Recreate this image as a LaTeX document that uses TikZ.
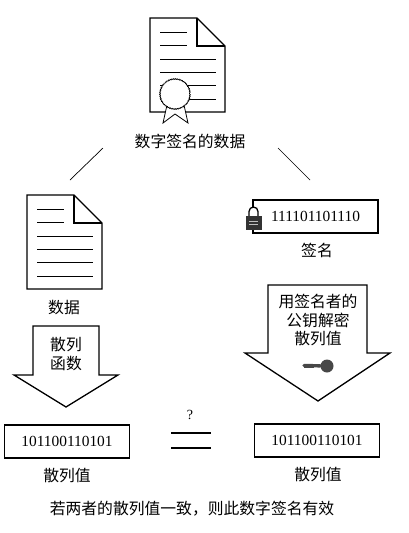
\documentclass[tikz,border=0pt]{standalone}
\usepackage{fontspec}
\setmainfont{Liberation Serif}
\newfontfamily\cjk{Noto Sans CJK SC}
\usetikzlibrary{decorations.pathmorphing}
\tikzset{
    cjktext/.style={inner sep=0pt,align=center,font=\cjk\fontsize{15.8}{18.5}\selectfont},
    bitbox/.style={draw,line width=1.3pt,minimum width=125pt,minimum height=33pt,inner sep=0pt,font=\fontsize{15.4}{18}\selectfont},
    bigarrow/.style={draw,line width=1.3pt,line join=miter},
    docpage/.pic={
        \draw[line width=1.4pt,fill=white] (0,0) -- (47,0) -- (75,28) -- (75,94) -- (0,94) -- cycle;
        \draw[line width=1.4pt] (47,0) -- (47,28) -- (75,28);
        \draw[line width=0.7pt] (10,14) -- (37,14) (10,27) -- (37,27)
            (10,41) -- (66,41) (10,54) -- (66,54) (10,67) -- (66,67) (10,81) -- (66,81);
    },
}
\begin{document}
\begin{tikzpicture}[x=1pt,y=-1pt]
    \useasboundingbox (0,0) rectangle (408,533);

    % signed document on top
    \pic at (150,18) {docpage};
    \draw[line width=0.8pt,fill=white] (167,105) -- (163,123) -- (175,114) -- (188,123) -- (184,105) -- cycle;
    \draw[line width=0.7pt,fill=white,decorate,decoration={bumps,segment length=3.4pt,amplitude=0.9pt}]
        (175,94) circle[radius=14.5];
    \node[cjktext] (signeddata) at (190,141) {数字签名的数据};

    \coordinate (leftA) at (103,148);
    \coordinate (leftB) at (70,180);
    \coordinate (rightA) at (278,148);
    \coordinate (rightB) at (310,180);
    \draw[line width=0.7pt] (leftA) -- (leftB);
    \draw[line width=0.7pt] (rightA) -- (rightB);

    % left column
    \pic at (27,195) {docpage};
    \node[cjktext] (data) at (64,308) {数据};
    \draw[bigarrow] (33,326) -- (99,326) -- (99,375) -- (118,375) -- (66,407) -- (14,375) -- (33,375) -- cycle;
    \node[cjktext] (hashfn) at (66,354) {散列\\函数};
    \node[bitbox] (hashL) at (67,441.5) {101100110101};
    \node[cjktext] (hashlabelL) at (67,476) {散列值};

    % right column
    \node[bitbox] (sig) at (315.5,216.5) {111101101110};
    \draw[line width=1.3pt,fill=white] (249,217) -- (249,211.5) arc[start angle=180,end angle=360,radius=4.5] -- (258,217);
    \node[draw=black!80,fill=black!80,minimum width=15pt,minimum height=13pt,inner sep=0pt] (lock) at (253.5,222.5) {};
    \draw[white!75!black,line width=0.6pt] (249,221) -- (258,221) (249,224.5) -- (258,224.5);
    \node[cjktext] (siglabel) at (317,250) {签名};
    \draw[bigarrow] (268,285) -- (367,285) -- (367,353) -- (390,353) -- (318,401) -- (245,353) -- (268,353) -- cycle;
    \node[cjktext] (decrypt) at (318,320) {用签名者的\\公钥解密\\散列值};
    \node[circle,fill=black!72,minimum size=13pt,inner sep=0pt] (keybow) at (327,366) {};
    \draw[line width=3.4pt,black!72,line cap=round] (304,365.5) -- (keybow);
    \draw[line width=1.4pt,black!72] (304,367.5) -- (314,367.5);
    \node[bitbox] (hashR) at (317,440.5) {101100110101};
    \node[cjktext] (hashlabelR) at (318,475) {散列值};

    % comparison
    \node[inner sep=0pt,font=\fontsize{14}{16}\selectfont] (question) at (190,415) {?};
    \coordinate (eqA) at (171,433);
    \coordinate (eqB) at (211,433);
    \coordinate (eqC) at (171,448);
    \coordinate (eqD) at (211,448);
    \draw[line width=1.1pt] (eqA) -- (eqB);
    \draw[line width=1.1pt] (eqC) -- (eqD);

    \node[cjktext] (verdict) at (192,509) {若两者的散列值一致\char"FF0C 则此数字签名有效};

\end{tikzpicture}
\end{document}
